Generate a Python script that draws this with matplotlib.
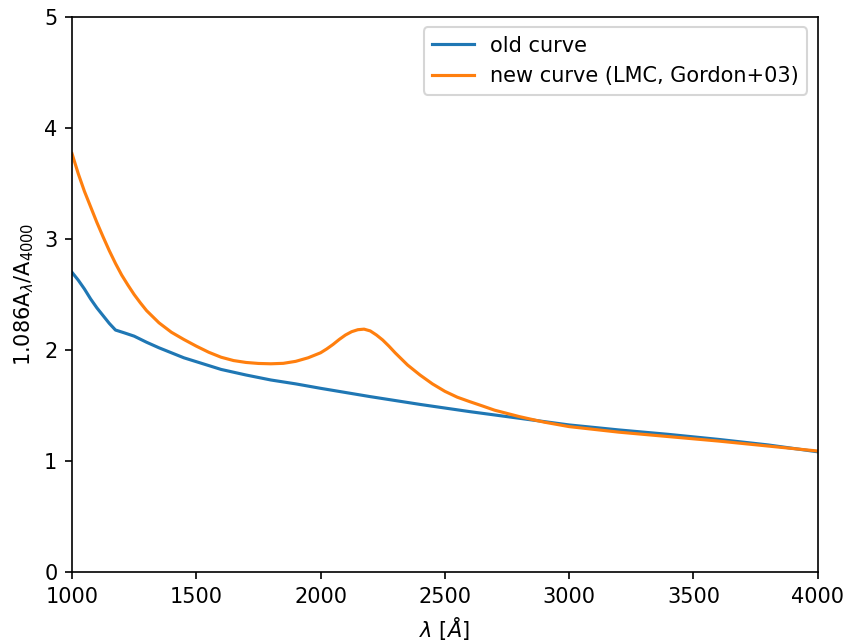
import numpy as np
import matplotlib.pyplot as plt

# old extinction curve
old_wave = [1000, 1025, 1050, 1075, 1100, 1125, 1150, 1175, 1210, 1250, 1300, 1350,
            1400, 1450, 1500, 1600, 1700, 1800, 1900, 2000, 2200, 2400, 2600, 2800,
            3000, 3200, 3400, 3600, 3800, 4000]
old_ext = [2.70, 2.63, 2.55, 2.46, 2.38, 2.31, 2.24, 2.18, 2.155, 2.125, 2.07, 2.02,
           1.975, 1.93, 1.895, 1.825, 1.775, 1.73, 1.695, 1.655, 1.58, 1.51, 1.445, 1.385,
           1.325, 1.28, 1.24, 1.195, 1.145, 1.083]

# new curve (LMC, Gordon+03)
new_wave = [1000, 1025, 1050, 1075, 1100, 1125, 1150, 1175, 1200, 1225, 1250, 1275,
            1300, 1350, 1400, 1450, 1500, 1550, 1600, 1650, 1700, 1750, 1800, 1850,
            1900, 1950, 2000, 2025, 2050, 2075, 2100, 2125, 2150, 2175, 2200, 2225,
            2250, 2275, 2300, 2350, 2400, 2450, 2500, 2550, 2600, 2650, 2700, 2800,
            2900, 3000, 3200, 3400, 3600, 3800, 4000]
new_ext = [3.77, 3.59, 3.43, 3.29, 3.15, 3.02, 2.895, 2.78, 2.675, 2.585, 2.50, 2.425,
           2.355, 2.245, 2.16, 2.095, 2.035, 1.98, 1.935, 1.905, 1.888, 1.879, 1.876, 1.88,
           1.898, 1.93, 1.975, 2.01, 2.05, 2.095, 2.135, 2.165, 2.183, 2.188, 2.172, 2.135,
           2.09, 2.035, 1.975, 1.865, 1.775, 1.695, 1.628, 1.575, 1.535, 1.497, 1.458, 1.40,
           1.35, 1.31, 1.26, 1.22, 1.18, 1.135, 1.09]

fig = plt.figure(figsize=(843 / 150, 642 / 150), dpi=150)
ax = fig.add_axes([0.0854, 0.109, 0.8846, 0.8645])

ax.plot(old_wave, old_ext, label='old curve')
ax.plot(new_wave, new_ext, label='new curve (LMC, Gordon+03)')

ax.set_xlim(1000, 4000)
ax.set_ylim(0, 5)
ax.set_xlabel(r'$\lambda$ [$\AA$]')
ax.set_ylabel(r'1.086A$_\lambda$/A$_{4000}$')
ax.legend(loc='upper right')

fig.savefig('out.png', dpi=150)
